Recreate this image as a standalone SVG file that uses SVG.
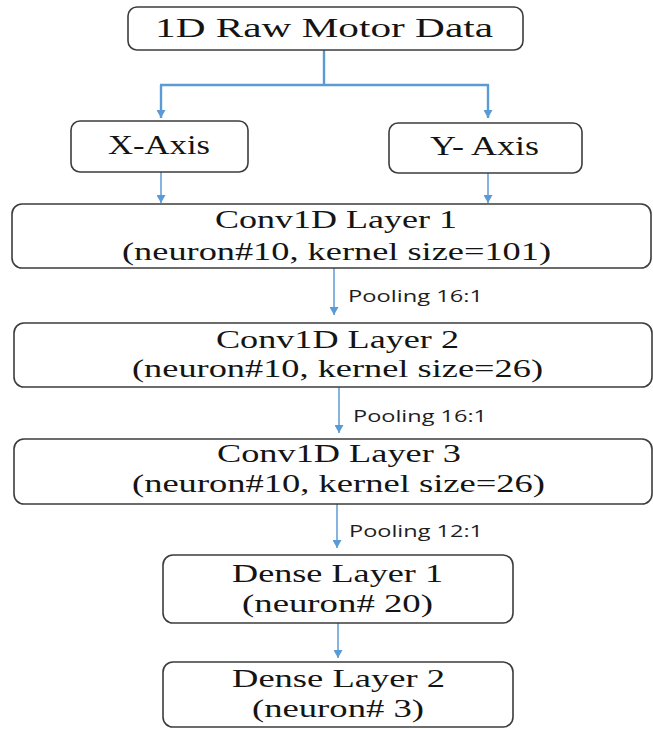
<svg xmlns="http://www.w3.org/2000/svg" width="653" height="729" viewBox="0 0 653 729">
  <defs>
    <marker id="arrow" markerUnits="userSpaceOnUse" markerWidth="9" markerHeight="9" refX="8" refY="4.5" orient="auto">
      <path d="M0,0 L8,4.5 L0,9 z" fill="#5b9bd5"/>
    </marker>
    <style>
      .box { fill: #ffffff; stroke: #3c3c3c; stroke-width: 1.6; }
      .lbl { font-family: "Liberation Serif", "DejaVu Serif", serif; fill: #141414; }
      .big { font-size: 27px; }
      .mid { font-size: 25px; }
      .pool { font-family: "Open Sans", "Liberation Sans", sans-serif; font-size: 17px; fill: #1e1e1e; }
      .wire { fill: none; stroke: #5b9bd5; stroke-width: 1.5; }
      .trunk { fill: none; stroke: #5b9bd5; stroke-width: 2.4; }
    </style>
  </defs>
  <rect width="653" height="729" fill="#ffffff"/>

  <g id="connectors">
    <path class="trunk" d="M324 50 V85 M160 85 H489"/>
    <path class="trunk" d="M161 85 V118" marker-end="url(#arrow)"/>
    <path class="trunk" d="M488 85 V118" marker-end="url(#arrow)"/>
    <path class="wire" d="M161 172 V203" marker-end="url(#arrow)"/>
    <path class="wire" d="M488 173 V203" marker-end="url(#arrow)"/>
    <path class="wire" d="M334 268 V315" marker-end="url(#arrow)"/>
    <path class="wire" d="M339 387 V433" marker-end="url(#arrow)"/>
    <path class="wire" d="M337 504 V548" marker-end="url(#arrow)"/>
    <path class="wire" d="M338 623 V658" marker-end="url(#arrow)"/>
    <text class="pool" x="348" y="302" textLength="135" lengthAdjust="spacingAndGlyphs">Pooling 16:1</text>
    <text class="pool" x="353" y="422" textLength="134" lengthAdjust="spacingAndGlyphs">Pooling 16:1</text>
    <text class="pool" x="349" y="537" textLength="134" lengthAdjust="spacingAndGlyphs">Pooling 12:1</text>
  </g>

  <g id="raw-data">
    <rect class="box" x="128" y="7" width="395" height="43" rx="9"/>
    <text class="lbl big" x="155" y="37" textLength="338" lengthAdjust="spacingAndGlyphs">1D Raw Motor Data</text>
  </g>

  <g id="x-axis">
    <rect class="box" x="71" y="121" width="177" height="51" rx="9"/>
    <text class="lbl big" x="108" y="154" textLength="102" lengthAdjust="spacingAndGlyphs">X-Axis</text>
  </g>

  <g id="y-axis">
    <rect class="box" x="389" y="123" width="193" height="50" rx="9"/>
    <text class="lbl big" x="430" y="155" textLength="109" lengthAdjust="spacingAndGlyphs">Y- Axis</text>
  </g>

  <g id="conv1">
    <rect class="box" x="12" y="204" width="639" height="64" rx="10"/>
    <text class="lbl mid" x="215" y="228" textLength="242" lengthAdjust="spacingAndGlyphs">Conv1D Layer 1</text>
    <text class="lbl mid" x="122" y="260" textLength="429" lengthAdjust="spacingAndGlyphs">(neuron#10, kernel size=101)</text>
  </g>

  <g id="conv2">
    <rect class="box" x="14" y="323" width="638" height="64" rx="10"/>
    <text class="lbl mid" x="216" y="348" textLength="243" lengthAdjust="spacingAndGlyphs">Conv1D Layer 2</text>
    <text class="lbl mid" x="132" y="377" textLength="411" lengthAdjust="spacingAndGlyphs">(neuron#10, kernel size=26)</text>
  </g>

  <g id="conv3">
    <rect class="box" x="14" y="439" width="638" height="65" rx="10"/>
    <text class="lbl mid" x="217" y="462" textLength="244" lengthAdjust="spacingAndGlyphs">Conv1D Layer 3</text>
    <text class="lbl mid" x="132" y="492" textLength="413" lengthAdjust="spacingAndGlyphs">(neuron#10, kernel size=26)</text>
  </g>

  <g id="dense1">
    <rect class="box" x="163" y="555" width="350" height="68" rx="10"/>
    <text class="lbl mid" x="232" y="582" textLength="211" lengthAdjust="spacingAndGlyphs">Dense Layer 1</text>
    <text class="lbl mid" x="242" y="612" textLength="191" lengthAdjust="spacingAndGlyphs">(neuron# 20)</text>
  </g>

  <g id="dense2">
    <rect class="box" x="163" y="662" width="350" height="65" rx="10"/>
    <text class="lbl mid" x="232" y="687" textLength="213" lengthAdjust="spacingAndGlyphs">Dense Layer 2</text>
    <text class="lbl mid" x="252" y="717" textLength="172" lengthAdjust="spacingAndGlyphs">(neuron# 3)</text>
  </g>
</svg>
